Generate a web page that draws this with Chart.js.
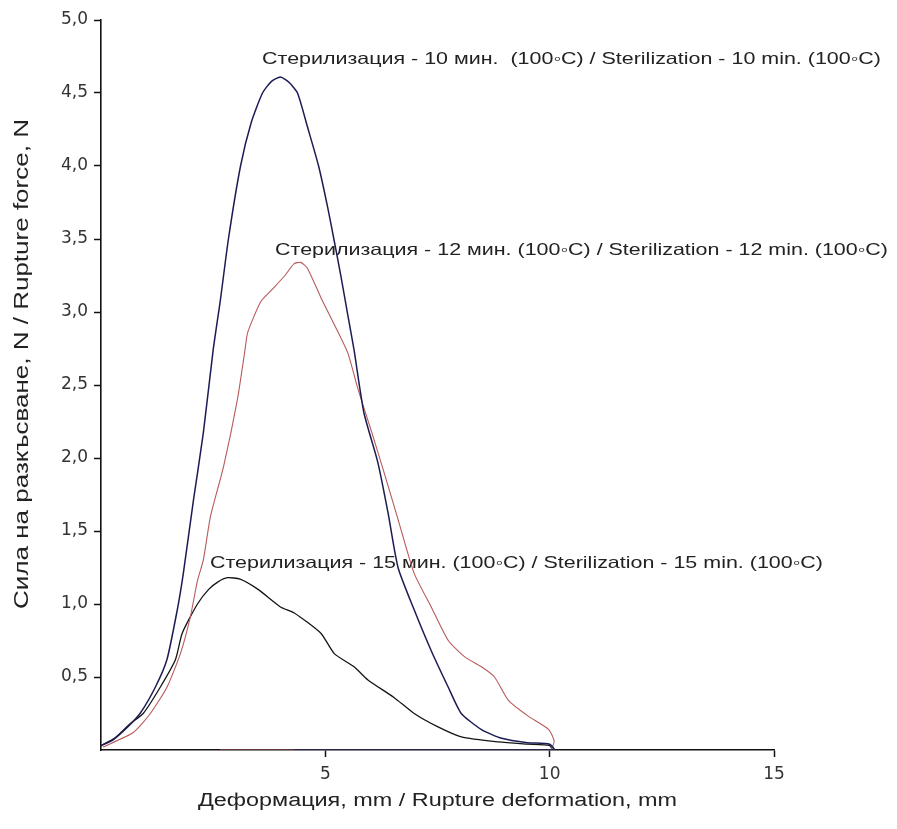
<!DOCTYPE html>
<html>
<head>
<meta charset="utf-8">
<script src="https://cdn.jsdelivr.net/npm/chart.js@4.4.1/dist/chart.umd.min.js"></script>
<style>
  html, body { margin: 0; padding: 0; background: #fff; }
  #wrap { width: 897px; height: 829px; position: relative; }
</style>
</head>
<body>
<div id="wrap"><canvas id="forceChart"></canvas></div>
<script>
// Rupture force vs deformation
// 10 min sterilization
const deform10 = [0, 0.27, 0.6, 0.87, 1.21, 1.47, 1.7, 1.83, 2.06, 2.28, 2.5, 2.66, 2.84, 3.11, 3.35, 3.6, 3.8, 4.0, 4.2, 4.38, 4.6, 4.85, 5.05, 5.19, 5.35, 5.5, 5.64, 5.86, 6.17, 6.4, 6.62, 6.98, 7.36, 7.74, 8.03, 8.48, 8.93, 9.5, 10.0, 10.1, 4.3];
const force10  = [0.03, 0.07, 0.16, 0.25, 0.43, 0.62, 0.96, 1.2, 1.71, 2.17, 2.74, 3.08, 3.5, 4.0, 4.3, 4.5, 4.58, 4.61, 4.57, 4.5, 4.27, 4.0, 3.72, 3.5, 3.24, 2.98, 2.74, 2.31, 1.97, 1.62, 1.25, 0.96, 0.68, 0.43, 0.25, 0.14, 0.08, 0.05, 0.04, 0, 0];

// 12 min sterilization
const deform12 = [0.04, 0.72, 1.1, 1.47, 1.77, 1.99, 2.15, 2.28, 2.44, 2.73, 3.04, 3.2, 3.27, 3.56, 3.8, 4.1, 4.3, 4.45, 4.6, 4.9, 5.19, 5.5, 5.73, 6.02, 6.31, 6.62, 6.98, 7.36, 7.74, 8.1, 8.48, 8.77, 9.08, 9.53, 9.98, 10.1, 10.0, 2.65];
const force12  = [0.02, 0.12, 0.25, 0.43, 0.66, 0.91, 1.16, 1.3, 1.6, 1.94, 2.4, 2.72, 2.86, 3.07, 3.15, 3.25, 3.33, 3.34, 3.3, 3.1, 2.92, 2.72, 2.47, 2.19, 1.9, 1.58, 1.21, 0.98, 0.75, 0.64, 0.57, 0.5, 0.34, 0.23, 0.14, 0.06, 0, 0];

// 15 min sterilization
const deform15 = [0, 0.3, 0.65, 0.94, 1.32, 1.66, 1.81, 2.15, 2.4, 2.6, 2.82, 3.1, 3.5, 4.0, 4.3, 4.9, 5.2, 5.64, 5.95, 6.53, 6.98, 7.5, 8.03, 8.86, 9.5, 10.0, 10.05, 1.4];
const force15  = [0.03, 0.08, 0.18, 0.25, 0.43, 0.62, 0.8, 1.0, 1.1, 1.15, 1.18, 1.17, 1.1, 0.98, 0.94, 0.8, 0.66, 0.57, 0.48, 0.36, 0.25, 0.16, 0.09, 0.055, 0.04, 0.03, 0, 0];

const xTicks = [5, 10, 15];
const yTicks = [0.5, 1.0, 1.5, 2.0, 2.5, 3.0, 3.5, 4.0, 4.5, 5.0];

const seriesLabels = [
  'Стерилизация - 10 мин.  (100◦C) / Sterilization - 10 min. (100◦C)',
  'Стерилизация - 12 мин. (100◦C) / Sterilization - 12 min. (100◦C)',
  'Стерилизация - 15 мин. (100◦C) / Sterilization - 15 min. (100◦C)'
];

const xTitle = 'Деформация, mm / Rupture deformation, mm';
const yTitle = 'Сила на разкъсване, N / Rupture force, N';

function toPoints(xs, ys) {
  return xs.map((x, i) => ({ x: x, y: ys[i] }));
}

// the reference image is stretched sideways, so text is drawn stretched too
function stretchedText(ctx, text, x, y, font, align, stretch, angle) {
  ctx.save();
  ctx.translate(x, y);
  if (angle) ctx.rotate(angle);
  ctx.scale(stretch, 1);
  ctx.font = font;
  ctx.fillStyle = '#222';
  ctx.textAlign = align;
  ctx.textBaseline = 'middle';
  ctx.fillText(text, 0, 0);
  ctx.restore();
}

// curve captions sit under the lines, at data coordinates
const captions = [
  { text: seriesLabels[0], x: 3.59, y: 4.73 },
  { text: seriesLabels[1], x: 3.88, y: 3.42 },
  { text: seriesLabels[2], x: 2.43, y: 1.28 }
];

const textPlugin = {
  id: 'textPlugin',
  beforeDatasetsDraw(chart) {
    const { ctx, scales } = chart;
    captions.forEach(c => {
      stretchedText(ctx, c.text, scales.x.getPixelForValue(c.x), scales.y.getPixelForValue(c.y),
        '16.5px "Liberation Sans", Arial, sans-serif', 'left', 1.3);
    });
  },
  afterDraw(chart) {
    const { ctx, chartArea } = chart;
    const cx = (chartArea.left + chartArea.right) / 2;
    stretchedText(ctx, xTitle, cx, 801, '18px "Liberation Sans", Arial, sans-serif', 'center', 1.3);
    stretchedText(ctx, yTitle, 22, 364, '20px "Liberation Sans", Arial, sans-serif', 'center', 1.3, -Math.PI / 2);
  }
};

const tickColor = (ctx) => (ctx.tick && ctx.tick.value === 0 ? 'rgba(0,0,0,0)' : '#111');

new Chart(document.getElementById('forceChart'), {
  type: 'scatter',
  data: {
    datasets: [
      { label: seriesLabels[0], data: toPoints(deform10, force10), borderColor: '#1c1c55', borderWidth: 1.5 },
      { label: seriesLabels[1], data: toPoints(deform12, force12), borderColor: '#b85a5a', borderWidth: 1.1 },
      { label: seriesLabels[2], data: toPoints(deform15, force15), borderColor: '#141414', borderWidth: 1.3 }
    ].map(d => Object.assign(d, { showLine: true, pointRadius: 0, tension: 0.2, fill: false }))
  },
  options: {
    responsive: true,
    maintainAspectRatio: false,
    animation: false,
    layout: { padding: { left: 0, top: 20, right: 123, bottom: 0 } },
    plugins: {
      legend: { display: false },
      tooltip: { enabled: false }
    },
    scales: {
      x: {
        type: 'linear',
        min: 0,
        max: 15,
        afterFit: (scale) => { scale.height = 79; },
        afterBuildTicks: (scale) => { scale.ticks = [0].concat(xTicks).map(v => ({ value: v })); },
        border: { display: true, color: '#111', width: 1.6 },
        grid: { drawOnChartArea: false, drawTicks: true, tickLength: 7, tickColor: tickColor, tickWidth: 1.5 },
        ticks: {
          color: '#333',
          padding: 7,
          font: { family: '"DejaVu Sans", Verdana, sans-serif', size: 17 },
          callback: (v) => (v === 0 ? '' : String(v))
        }
      },
      y: {
        type: 'linear',
        min: 0,
        max: 5,
        afterFit: (scale) => { scale.width = 101; },
        afterBuildTicks: (scale) => { scale.ticks = [0].concat(yTicks).map(v => ({ value: v })); },
        border: { display: true, color: '#111', width: 1.6 },
        grid: { drawOnChartArea: false, drawTicks: true, tickLength: 7, tickColor: tickColor, tickWidth: 1.5 },
        ticks: {
          color: '#333',
          padding: 6,
          font: { family: '"DejaVu Sans", Verdana, sans-serif', size: 17 },
          callback: (v) => (v === 0 ? '' : v.toFixed(1).replace('.', ','))
        }
      }
    }
  },
  plugins: [textPlugin]
});
</script>
</body>
</html>
